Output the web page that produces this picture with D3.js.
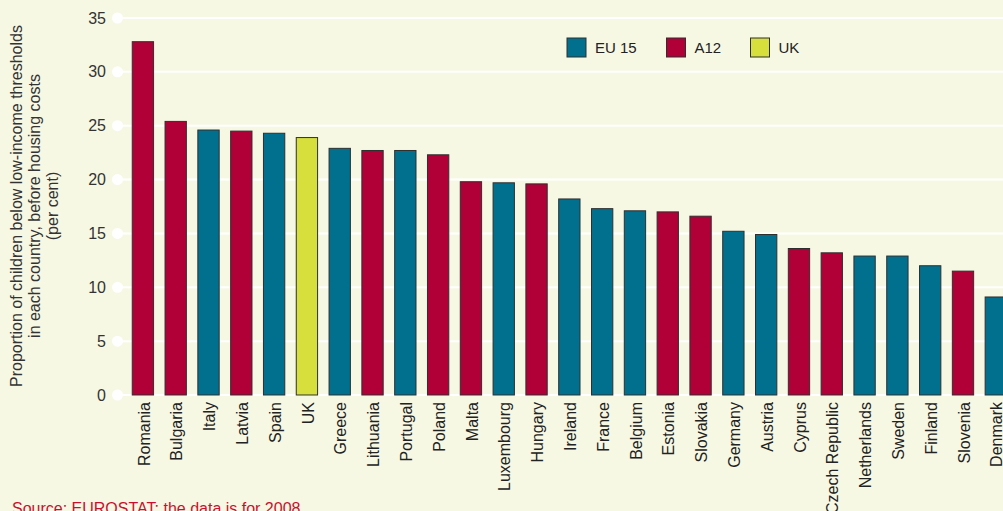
<!DOCTYPE html>
<html lang="en">
<head>
	<meta charset="utf-8">
	<title>Child poverty in the EU</title>
	<script src="https://d3js.org/d3.v7.min.js"></script>
	<style>
	body, html {margin: 0; padding: 0; background: #f7f8e4;}
	svg {display: block; font-family: "Liberation Sans", Arial, sans-serif;}
	</style>
</head>
<body>
<div id="chart"></div>
<script>

// Countries, ordered as in the chart
var countries = ["Romania", "Bulgaria", "Italy", "Latvia", "Spain", "UK", "Greece", "Lithuania",
	"Portugal", "Poland", "Malta", "Luxembourg", "Hungary", "Ireland", "France", "Belgium",
	"Estonia", "Slovakia", "Germany", "Austria", "Cyprus", "Czech Republic", "Netherlands",
	"Sweden", "Finland", "Slovenia", "Denmark"];

// Per cent of children below low-income thresholds
var values = [32.8, 25.4, 24.6, 24.5, 24.3, 23.9, 22.9, 22.7,
	22.7, 22.3, 19.8, 19.7, 19.6, 18.2, 17.3, 17.1,
	17.0, 16.6, 15.2, 14.9, 13.6, 13.2, 12.9,
	12.9, 12.0, 11.5, 9.1];

// Group of each country
var groups = ["A12", "A12", "EU 15", "A12", "EU 15", "UK", "EU 15", "A12",
	"EU 15", "A12", "A12", "EU 15", "A12", "EU 15", "EU 15", "EU 15",
	"A12", "A12", "EU 15", "EU 15", "A12", "A12", "EU 15",
	"EU 15", "EU 15", "A12", "EU 15"];

var groupNames = ["EU 15", "A12", "UK"];
var yTicks = [0, 5, 10, 15, 20, 25, 30, 35];

var data = countries.map(function(c, i) {
	return {country: c, value: values[i], group: groups[i]};
});

var width = 1003, height = 511;
var colour = d3.scaleOrdinal()
	.domain(groupNames)
	.range(["#00708f", "#b00037", "#d6df3c"]);

var svg = d3.select("#chart").append("svg")
	.attr("width", width)
	.attr("height", height);

svg.append("rect")
	.attr("width", width)
	.attr("height", height)
	.attr("fill", "#f7f8e4");

var xScale = d3.scaleBand()
	.domain(countries)
	.range([126.5, 1012.2])
	.paddingInner(0.35)
	.paddingOuter(0.175);

var yScale = d3.scaleLinear()
	.domain([0, 35])
	.range([395, 18]);

// gridlines with a white dot at the start
var grid = svg.append("g").selectAll("g")
	.data(yTicks)
	.enter().append("g")
	.attr("transform", function(d) { return "translate(0," + yScale(d) + ")"; });

grid.append("line")
	.attr("x1", 117)
	.attr("x2", width)
	.attr("stroke", "#ffffff")
	.attr("stroke-width", 2);

grid.append("circle")
	.attr("cx", 117.5)
	.attr("r", 5.5)
	.attr("fill", "#ffffff");

grid.append("text")
	.attr("x", 106)
	.attr("dy", "0.35em")
	.attr("text-anchor", "end")
	.style("font-size", "16px")
	.attr("fill", "#333")
	.text(function(d) { return d; });

// bars
svg.append("g").selectAll("rect")
	.data(data)
	.enter().append("rect")
	.attr("x", function(d) { return xScale(d.country); })
	.attr("y", function(d) { return yScale(d.value); })
	.attr("width", xScale.bandwidth())
	.attr("height", function(d) { return yScale(0) - yScale(d.value); })
	.attr("fill", function(d) { return colour(d.group); })
	.attr("stroke", "#2f2f2f")
	.attr("stroke-width", 1);

// country labels
svg.append("g").selectAll("text")
	.data(data)
	.enter().append("text")
	.attr("transform", function(d) {
		return "translate(" + (xScale(d.country) + xScale.bandwidth() / 2 + 1) + ",402) rotate(-90)";
	})
	.attr("dy", "0.35em")
	.attr("text-anchor", "end")
	.style("font-size", "16px")
	.attr("fill", "#222")
	.text(function(d) { return d.country; });

// y axis title
var title = svg.append("text")
	.attr("transform", "translate(0,206) rotate(-90)")
	.attr("text-anchor", "middle")
	.style("font-size", "16px")
	.attr("fill", "#333");
["Proportion of children below low-income thresholds",
 "in each country, before housing costs",
 "(per cent)"].forEach(function(t, i) {
	title.append("tspan")
		.attr("x", 0)
		.attr("y", 22 + i * 18)
		.text(t);
});

// legend
var legendX = [567, 666.5, 750.5];
var legend = svg.append("g").selectAll("g")
	.data(groupNames)
	.enter().append("g")
	.attr("transform", function(d, i) { return "translate(" + legendX[i] + ",38)"; });

legend.append("rect")
	.attr("width", 19)
	.attr("height", 19)
	.attr("fill", function(d) { return colour(d); })
	.attr("stroke", "#2f2f2f");

legend.append("text")
	.attr("x", 28)
	.attr("y", 10)
	.attr("dy", "0.35em")
	.style("font-size", "15px")
	.attr("fill", "#222")
	.text(function(d) { return d; });

// source note (cut by the bottom edge, as in the original)
svg.append("text")
	.attr("x", 12)
	.attr("y", 514)
	.style("font-size", "16px")
	.attr("fill", "#c8102e")
	.text("Source: EUROSTAT; the data is for 2008");

</script>
</body>
</html>
